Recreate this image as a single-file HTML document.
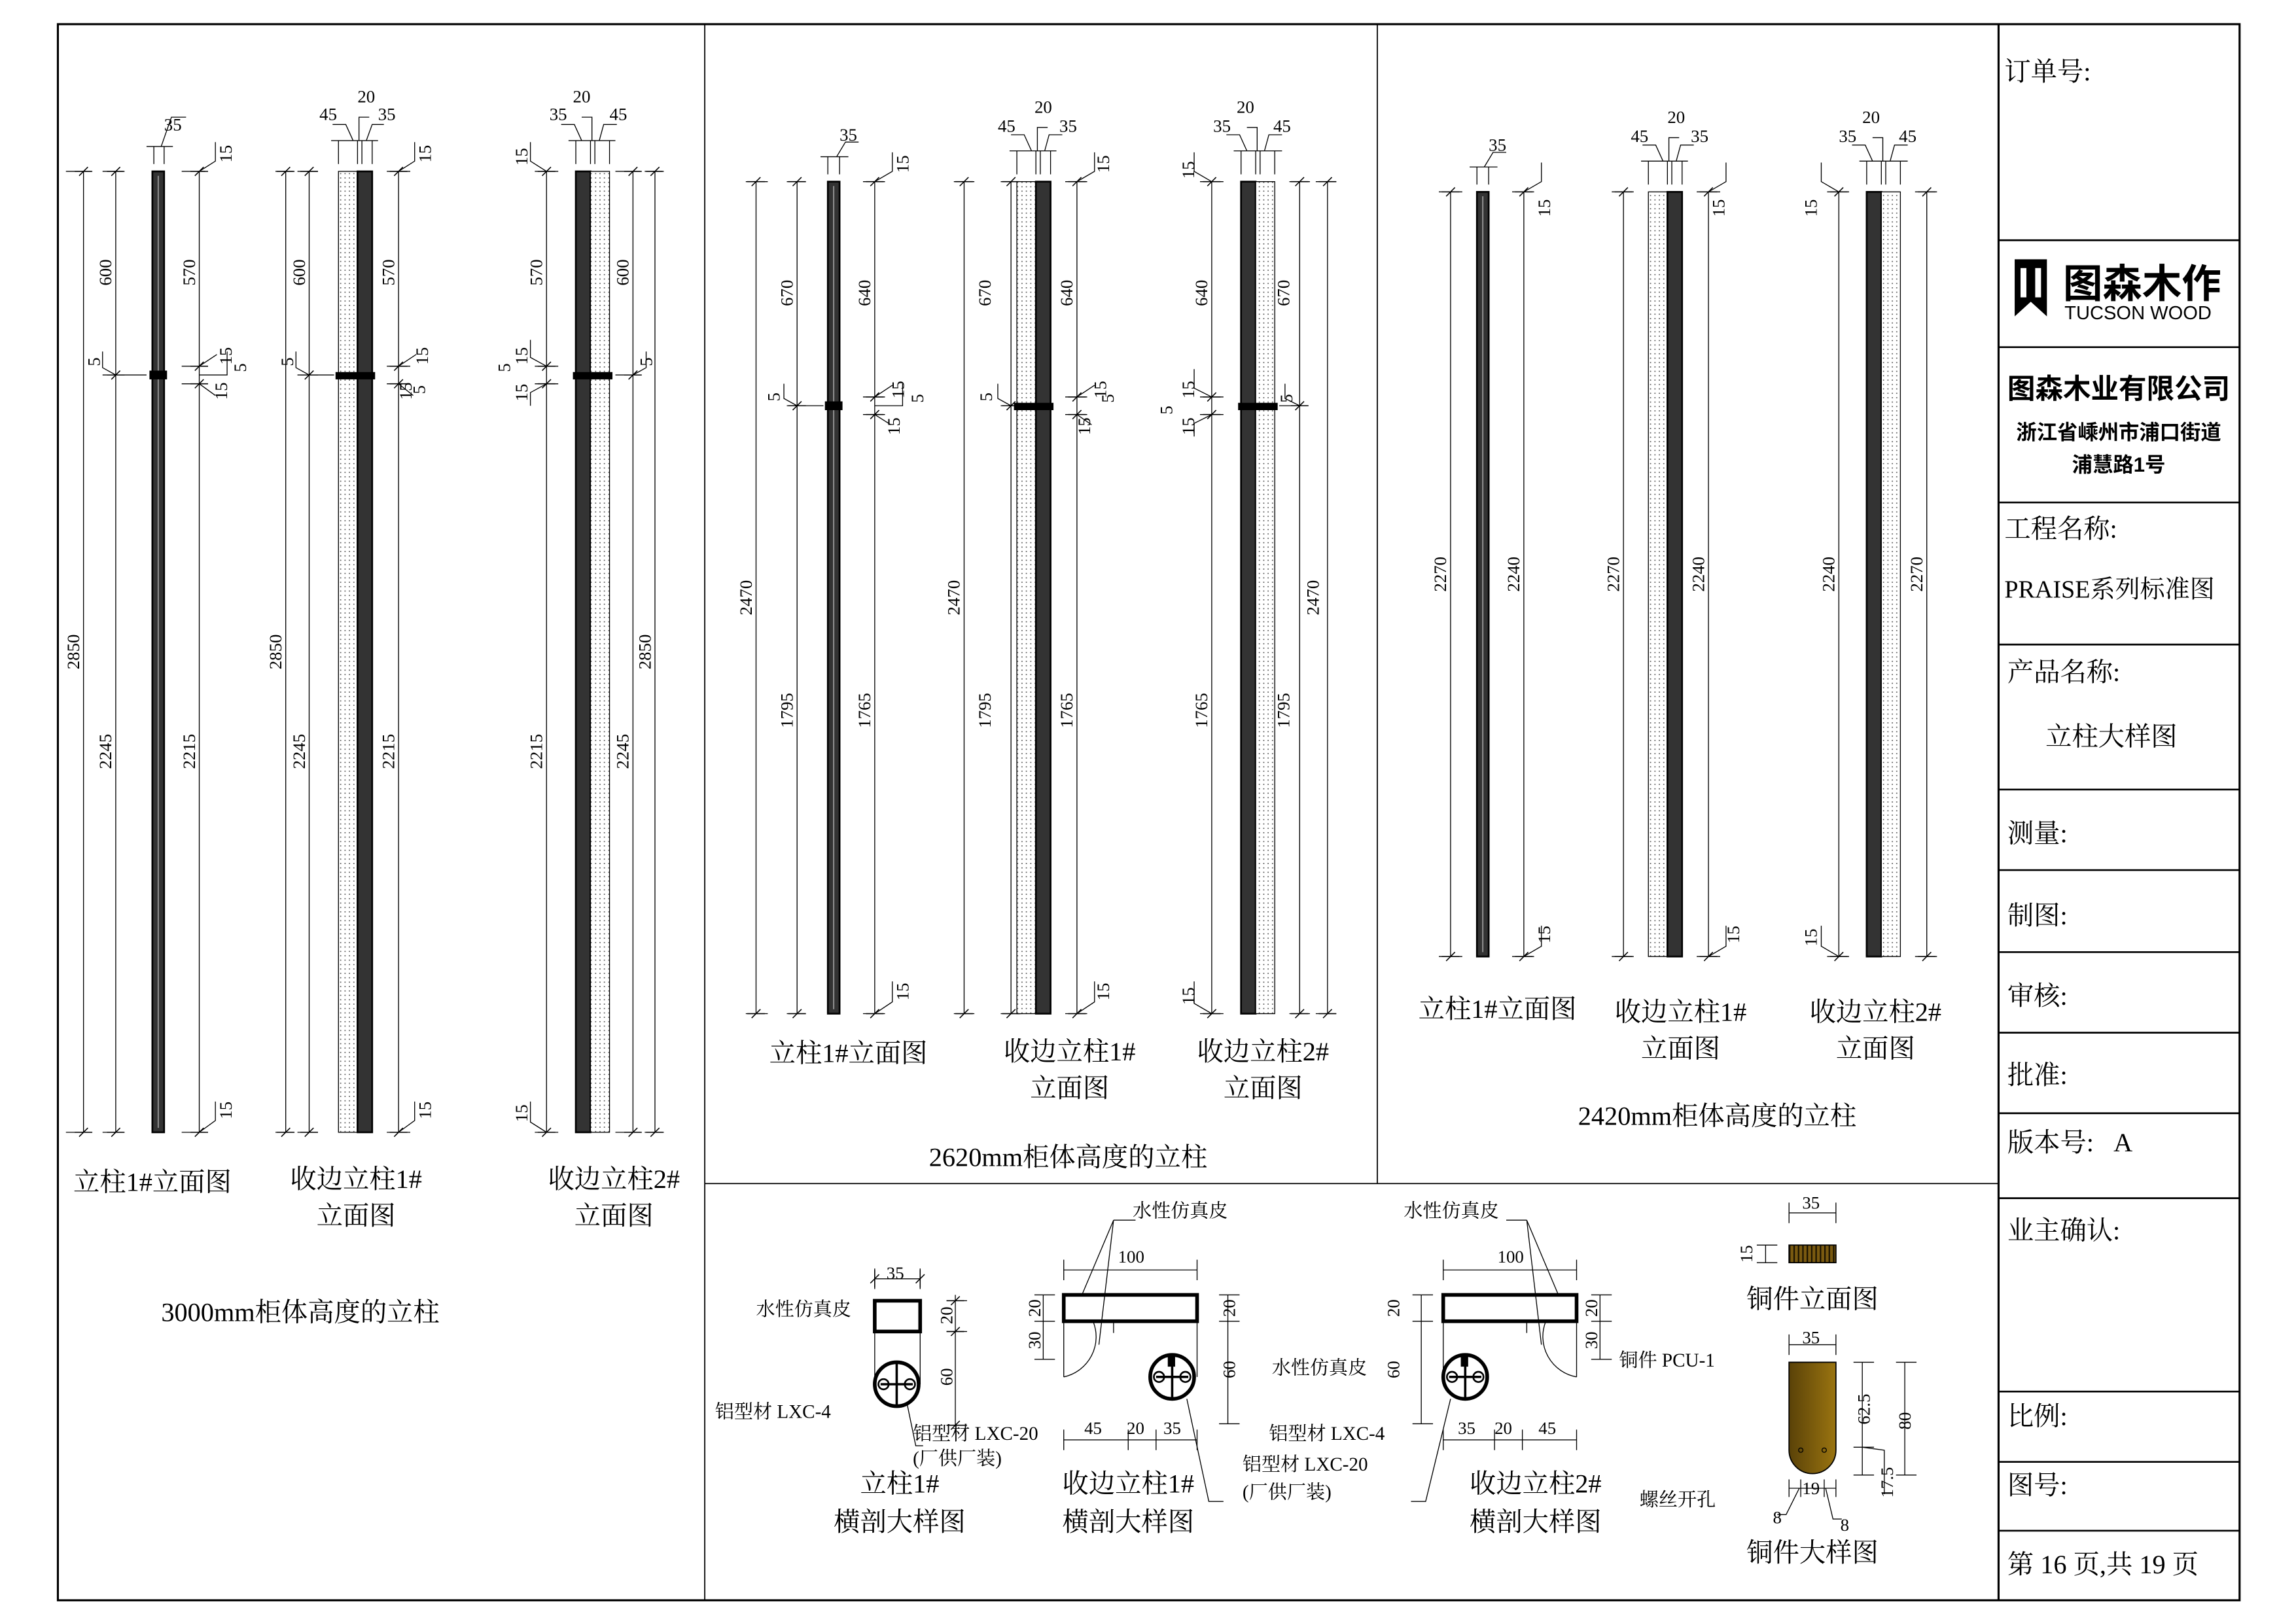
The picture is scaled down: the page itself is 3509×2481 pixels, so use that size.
<!DOCTYPE html>
<html><head><meta charset="utf-8"><style>
html,body{margin:0;padding:0;background:#fff;}
svg{display:block;}
text{font-family:"Liberation Serif","Noto Serif CJK SC","Noto Sans CJK SC",serif;fill:#000;}
.s{font-family:"Liberation Sans","Noto Sans CJK SC",sans-serif;}
</style></head><body>
<svg width="3509" height="2481" viewBox="0 0 1567 1108" preserveAspectRatio="none" xmlns="http://www.w3.org/2000/svg">
<defs>
<symbol id="k" overflow="visible"><path d="M-6,0H6M-3,3L3,-3" stroke="#000" stroke-width="0.7" fill="none"/></symbol>
<symbol id="kv" overflow="visible"><path d="M0,-6V6M-3,3L3,-3" stroke="#000" stroke-width="0.7" fill="none"/></symbol>
<pattern id="dot" width="3" height="3" patternUnits="userSpaceOnUse"><rect width="3" height="3" fill="#fff"/><circle cx="1.5" cy="1.5" r="0.45" fill="#555"/></pattern>
<pattern id="hat" width="3" height="10" patternUnits="userSpaceOnUse"><rect width="3" height="10" fill="#7a5a10"/><rect x="0" width="1" height="10" fill="#1a1200"/></pattern>
<linearGradient id="cu" x1="0" x2="1"><stop offset="0" stop-color="#5a4208"/><stop offset="1" stop-color="#9a7410"/></linearGradient>
</defs>
<rect width="1567" height="1108" fill="#fff"/>
<g stroke="#000" fill="none">
<rect x="39.5" y="16.5" width="1489" height="1076" stroke-width="1.4"/>
<path d="M1364,16V1092" stroke-width="1.4"/>
<path d="M481,16V1092M940,16V808M481,808H1364" stroke-width="0.8"/>
<path d="M1364,164H1528M1364,237H1528M1364,343H1528M1364,440H1528M1364,539H1528M1364,594H1528M1364,650H1528M1364,705H1528M1364,760H1528M1364,818H1528M1364,950H1528M1364,998H1528M1364,1045H1528" stroke-width="1.2"/>
</g>
<!-- title block -->
<g font-size="18">
<text x="1368" y="55">订单号:</text>
<text x="1368" y="367">工程名称:</text>
<text x="1368" y="408" font-size="17">PRAISE系列标准图</text>
<text x="1370" y="465">产品名称:</text>
<text x="1396" y="509">立柱大样图</text>
<text x="1370" y="575">测量:</text>
<text x="1370" y="631">制图:</text>
<text x="1370" y="686">审核:</text>
<text x="1370" y="740">批准:</text>
<text x="1370" y="786">版本号:&#160;&#160;&#160;A</text>
<text x="1370" y="846">业主确认:</text>
<text x="1370" y="973">比例:</text>
<text x="1370" y="1020">图号:</text>
<text x="1370" y="1074">第 16 页,共 19 页</text>
</g>
<path d="M1375,177H1397V216L1386,206L1375,216Z" fill="#000"/>
<rect x="1379" y="183" width="4" height="20" fill="#fff"/><rect x="1389" y="183" width="4" height="20" fill="#fff"/>
<text x="1408" y="203" font-size="27" font-weight="bold" class="s">图森木作</text>
<text x="1409" y="218" font-size="13" class="s">TUCSON WOOD</text>
<text x="1446" y="272" font-size="19" font-weight="bold" class="s" text-anchor="middle">图森木业有限公司</text>
<text x="1446" y="300" font-size="14" font-weight="bold" class="s" text-anchor="middle">浙江省嵊州市浦口街道</text>
<text x="1446" y="322" font-size="14" font-weight="bold" class="s" text-anchor="middle">浦慧路1号</text>

<!-- ============ Section 1 : 3000mm ============ -->
<g stroke="#000" stroke-width="0.6" fill="none">
<path d="M57,117V773M79,117V773M136,117V773"/>
<path d="M45,117H62M45,773H62M70,117H84M70,773H84M70,256H100M124,117H140M124,773H140M124,250H140M124,262H140"/>
<path d="M105,100V112M112,100V112M100,100H118M110,100L117,80H127"/>
<path d="M136,117L147,110V97M79,256L70,251V240M136,250L148,242M136,262L147,270M136,256H155V240M136,773L147,765V752"/>
<path d="M195,117V773M211,117V773M272,117V773"/>
<path d="M188,117H200M188,773H200M203,117H217M203,773H217M203,256H228M264,117H280M264,773H280M264,250H280M264,262H280"/>
<path d="M231,96V112M244,96V112M247,96V112M254,96V112M226,96H258M241,96L236,85H227M250,96L254,85H262M245,96V80H252"/>
<path d="M272,117L283,110V97M211,256L202,251V240M272,250L284,242M272,262L282,270M272,773L283,765V752"/>
<path d="M373,117V773M432,117V773M447,117V773"/>
<path d="M365,117H381M365,773H381M365,250H381M365,262H381M420,117H437M420,773H437M440,117H452M440,773H452M420,256H436"/>
<path d="M393,96V112M403,96V112M406,96V112M416,96V112M388,96H420M397,96L392,85H383M409,96L412,85H421M404,96V80H397"/>
<path d="M373,117L362,110V97M373,250L362,244V232M373,262L362,268V277M432,256L441,251V240M373,773L362,766V752"/>
</g>
<g fill="#000">
<use href="#k" x="57" y="117"/><use href="#k" x="57" y="773"/><use href="#k" x="79" y="117"/><use href="#k" x="79" y="256"/><use href="#k" x="79" y="773"/><use href="#k" x="136" y="117"/><use href="#k" x="136" y="250"/><use href="#k" x="136" y="262"/><use href="#k" x="136" y="773"/>
<use href="#k" x="195" y="117"/><use href="#k" x="195" y="773"/><use href="#k" x="211" y="117"/><use href="#k" x="211" y="256"/><use href="#k" x="211" y="773"/><use href="#k" x="272" y="117"/><use href="#k" x="272" y="250"/><use href="#k" x="272" y="262"/><use href="#k" x="272" y="773"/>
<use href="#k" x="373" y="117"/><use href="#k" x="373" y="250"/><use href="#k" x="373" y="262"/><use href="#k" x="373" y="773"/><use href="#k" x="432" y="117"/><use href="#k" x="432" y="256"/><use href="#k" x="432" y="773"/><use href="#k" x="447" y="117"/><use href="#k" x="447" y="773"/>
</g>
<rect x="104" y="117" width="8" height="656" fill="#333" stroke="#000" stroke-width="1.2"/>
<path d="M108,120V770" stroke="#bbb" stroke-width="0.6"/>
<rect x="102" y="253" width="12" height="6" fill="#000"/>
<rect x="231" y="117" width="13" height="656" fill="url(#dot)" stroke="#000" stroke-width="0.6"/>
<rect x="244" y="117" width="10" height="656" fill="#333" stroke="#000" stroke-width="1.2"/>
<rect x="229" y="254" width="27" height="5" fill="#000"/>
<rect x="393" y="117" width="10" height="656" fill="#333" stroke="#000" stroke-width="1.2"/>
<rect x="403" y="117" width="13" height="656" fill="url(#dot)" stroke="#000" stroke-width="0.6"/>
<rect x="391" y="254" width="27" height="5" fill="#000"/>
<g font-size="12">
<g text-anchor="middle">
<text transform="translate(54,445) rotate(-90)">2850</text>
<text transform="translate(76,186) rotate(-90)">600</text>
<text transform="translate(76,513) rotate(-90)">2245</text>
<text transform="translate(133,186) rotate(-90)">570</text>
<text transform="translate(133,513) rotate(-90)">2215</text>
<text transform="translate(192,445) rotate(-90)">2850</text>
<text transform="translate(208,186) rotate(-90)">600</text>
<text transform="translate(208,513) rotate(-90)">2245</text>
<text transform="translate(269,186) rotate(-90)">570</text>
<text transform="translate(269,513) rotate(-90)">2215</text>
<text transform="translate(370,186) rotate(-90)">570</text>
<text transform="translate(370,513) rotate(-90)">2215</text>
<text transform="translate(429,186) rotate(-90)">600</text>
<text transform="translate(429,513) rotate(-90)">2245</text>
<text transform="translate(444,445) rotate(-90)">2850</text>
<text transform="translate(158,105) rotate(-90)">15</text>
<text transform="translate(158,243) rotate(-90)">15</text>
<text transform="translate(168,251) rotate(-90)">5</text>
<text transform="translate(155,267) rotate(-90)">15</text>
<text transform="translate(158,758) rotate(-90)">15</text>
<text transform="translate(68,247) rotate(-90)">5</text>
<text transform="translate(294,105) rotate(-90)">15</text>
<text transform="translate(292,243) rotate(-90)">15</text>
<text transform="translate(290,266) rotate(-90)">5</text>
<text transform="translate(281,267) rotate(-90)">15</text>
<text transform="translate(294,758) rotate(-90)">15</text>
<text transform="translate(200,247) rotate(-90)">5</text>
<text transform="translate(360,107) rotate(-90)">15</text>
<text transform="translate(360,243) rotate(-90)">15</text>
<text transform="translate(348,251) rotate(-90)">5</text>
<text transform="translate(360,268) rotate(-90)">15</text>
<text transform="translate(360,760) rotate(-90)">15</text>
<text transform="translate(445,247) rotate(-90)">5</text>
</g>
<text x="112" y="89">35</text>
<text x="218" y="82">45</text><text x="244" y="70">20</text><text x="258" y="82">35</text>
<text x="375" y="82">35</text><text x="391" y="70">20</text><text x="416" y="82">45</text>
</g>
<g font-size="18" text-anchor="middle">
<text x="104" y="813">立柱1#立面图</text>
<text x="243" y="811">收边立柱1#</text><text x="243" y="836">立面图</text>
<text x="419" y="811">收边立柱2#</text><text x="419" y="836">立面图</text>
<text x="205" y="902">3000mm柜体高度的立柱</text>
</g>

<!-- ============ Section 2 : 2620mm ============ -->
<g stroke="#000" stroke-width="0.6" fill="none">
<path d="M516,124V692M544,124V692M597,124V692"/>
<path d="M509,124H524M509,692H524M537,124H550M537,692H550M537,277H562M589,124H604M589,692H604M589,271H604M589,283H604"/>
<path d="M565,107V119M573,107V119M560,107H579M571,107L577,97H586"/>
<path d="M597,124L609,117V104M544,277L535,272V262M597,271L609,263M597,283L608,290M597,277H616V262M597,692L609,684V670"/>
<path d="M658,124V692M690,124V692M735,124V692"/>
<path d="M651,124H665M651,692H665M683,124H697M683,692H697M683,277H692M727,124H742M727,692H742M727,271H742M727,283H742"/>
<path d="M694,103V119M707,103V119M710,103V119M717,103V119M689,103H721M704,103L699,92H690M713,103L716,92H725M708,103V87H715"/>
<path d="M735,124L747,117V104M690,277L681,272V262M735,271L747,263M735,283L745,290M735,692L747,684V670"/>
<path d="M827,124V692M887,124V692M906,124V692"/>
<path d="M819,124H835M819,692H835M819,271H835M819,283H835M880,124H894M880,692H894M898,124H912M898,692H912M873,277H893"/>
<path d="M847,103V119M857,103V119M860,103V119M870,103V119M842,103H875M851,103L846,92H837M863,103L866,92H875M858,103V87H851"/>
<path d="M827,124L815,117V104M827,271L815,265V252M827,283L815,289V298M887,277L877,272V262M827,692L815,685V670"/>
</g>
<g>
<use href="#k" x="516" y="124"/><use href="#k" x="516" y="692"/><use href="#k" x="544" y="124"/><use href="#k" x="544" y="277"/><use href="#k" x="544" y="692"/><use href="#k" x="597" y="124"/><use href="#k" x="597" y="271"/><use href="#k" x="597" y="283"/><use href="#k" x="597" y="692"/>
<use href="#k" x="658" y="124"/><use href="#k" x="658" y="692"/><use href="#k" x="690" y="124"/><use href="#k" x="690" y="277"/><use href="#k" x="690" y="692"/><use href="#k" x="735" y="124"/><use href="#k" x="735" y="271"/><use href="#k" x="735" y="283"/><use href="#k" x="735" y="692"/>
<use href="#k" x="827" y="124"/><use href="#k" x="827" y="271"/><use href="#k" x="827" y="283"/><use href="#k" x="827" y="692"/><use href="#k" x="887" y="124"/><use href="#k" x="887" y="277"/><use href="#k" x="887" y="692"/><use href="#k" x="906" y="124"/><use href="#k" x="906" y="692"/>
</g>
<rect x="565" y="124" width="8" height="568" fill="#333" stroke="#000" stroke-width="1.2"/>
<path d="M569,127V689" stroke="#bbb" stroke-width="0.6"/>
<rect x="563" y="274" width="12" height="6" fill="#000"/>
<rect x="694" y="124" width="13" height="568" fill="url(#dot)" stroke="#000" stroke-width="0.6"/>
<rect x="707" y="124" width="10" height="568" fill="#333" stroke="#000" stroke-width="1.2"/>
<rect x="692" y="275" width="27" height="5" fill="#000"/>
<rect x="847" y="124" width="10" height="568" fill="#333" stroke="#000" stroke-width="1.2"/>
<rect x="857" y="124" width="13" height="568" fill="url(#dot)" stroke="#000" stroke-width="0.6"/>
<rect x="845" y="275" width="27" height="5" fill="#000"/>
<g font-size="12">
<g text-anchor="middle">
<text transform="translate(513,408) rotate(-90)">2470</text>
<text transform="translate(541,200) rotate(-90)">670</text>
<text transform="translate(541,485) rotate(-90)">1795</text>
<text transform="translate(594,200) rotate(-90)">640</text>
<text transform="translate(594,485) rotate(-90)">1765</text>
<text transform="translate(655,408) rotate(-90)">2470</text>
<text transform="translate(676,200) rotate(-90)">670</text>
<text transform="translate(676,485) rotate(-90)">1795</text>
<text transform="translate(732,200) rotate(-90)">640</text>
<text transform="translate(732,485) rotate(-90)">1765</text>
<text transform="translate(824,200) rotate(-90)">640</text>
<text transform="translate(824,485) rotate(-90)">1765</text>
<text transform="translate(880,200) rotate(-90)">670</text>
<text transform="translate(880,485) rotate(-90)">1795</text>
<text transform="translate(900,408) rotate(-90)">2470</text>
<text transform="translate(620,112) rotate(-90)">15</text>
<text transform="translate(617,266) rotate(-90)">15</text>
<text transform="translate(630,272) rotate(-90)">5</text>
<text transform="translate(614,291) rotate(-90)">15</text>
<text transform="translate(620,677) rotate(-90)">15</text>
<text transform="translate(532,271) rotate(-90)">5</text>
<text transform="translate(757,112) rotate(-90)">15</text>
<text transform="translate(755,266) rotate(-90)">15</text>
<text transform="translate(760,272) rotate(-90)">5</text>
<text transform="translate(744,291) rotate(-90)">15</text>
<text transform="translate(757,677) rotate(-90)">15</text>
<text transform="translate(677,271) rotate(-90)">5</text>
<text transform="translate(815,116) rotate(-90)">15</text>
<text transform="translate(815,266) rotate(-90)">15</text>
<text transform="translate(800,280) rotate(-90)">5</text>
<text transform="translate(815,291) rotate(-90)">15</text>
<text transform="translate(815,680) rotate(-90)">15</text>
<text transform="translate(882,272) rotate(-90)">5</text>
</g>
<text x="573" y="96">35</text>
<text x="681" y="90">45</text><text x="706" y="77">20</text><text x="723" y="90">35</text>
<text x="828" y="90">35</text><text x="844" y="77">20</text><text x="869" y="90">45</text>
</g>
<g font-size="18" text-anchor="middle">
<text x="579" y="725">立柱1#立面图</text>
<text x="730" y="724">收边立柱1#</text><text x="730" y="749">立面图</text>
<text x="862" y="724">收边立柱2#</text><text x="862" y="749">立面图</text>
<text x="729" y="796">2620mm柜体高度的立柱</text>
</g>

<!-- ============ Section 3 : 2420mm ============ -->
<g stroke="#000" stroke-width="0.6" fill="none">
<path d="M990,131V653M1040,131V653M1108,131V653M1166,131V653M1255,131V653M1315,131V653"/>
<path d="M982,131H998M982,653H998M1032,131H1047M1032,653H1047M1100,131H1115M1100,653H1115M1158,131H1174M1158,653H1174M1247,131H1262M1247,653H1262M1307,131H1322M1307,653H1322"/>
<path d="M1008,114V126M1016,114V126M1003,114H1022M1013,114L1019,104H1028"/>
<path d="M1125,110V126M1138,110V126M1141,110V126M1148,110V126M1120,110H1152M1135,110L1130,99H1121M1144,110L1147,99H1156M1139,110V94H1146"/>
<path d="M1274,110V126M1284,110V126M1287,110V126M1297,110V126M1269,110H1302M1278,110L1273,99H1264M1290,110L1293,99H1302M1285,110V94H1278"/>
<path d="M1040,131L1052,124V111M1040,653L1052,646V632M1166,131L1178,124V111M1166,653L1178,646V632M1255,131L1243,124V111M1255,653L1243,646V632"/>
</g>
<g>
<use href="#k" x="990" y="131"/><use href="#k" x="990" y="653"/><use href="#k" x="1040" y="131"/><use href="#k" x="1040" y="653"/>
<use href="#k" x="1108" y="131"/><use href="#k" x="1108" y="653"/><use href="#k" x="1166" y="131"/><use href="#k" x="1166" y="653"/>
<use href="#k" x="1255" y="131"/><use href="#k" x="1255" y="653"/><use href="#k" x="1315" y="131"/><use href="#k" x="1315" y="653"/>
</g>
<rect x="1008" y="131" width="8" height="522" fill="#333" stroke="#000" stroke-width="1.2"/>
<path d="M1012,134V650" stroke="#bbb" stroke-width="0.6"/>
<rect x="1125" y="131" width="13" height="522" fill="url(#dot)" stroke="#000" stroke-width="0.6"/>
<rect x="1138" y="131" width="10" height="522" fill="#333" stroke="#000" stroke-width="1.2"/>
<rect x="1274" y="131" width="10" height="522" fill="#333" stroke="#000" stroke-width="1.2"/>
<rect x="1284" y="131" width="13" height="522" fill="url(#dot)" stroke="#000" stroke-width="0.6"/>
<g font-size="12">
<g text-anchor="middle">
<text transform="translate(987,392) rotate(-90)">2270</text>
<text transform="translate(1037,392) rotate(-90)">2240</text>
<text transform="translate(1105,392) rotate(-90)">2270</text>
<text transform="translate(1163,392) rotate(-90)">2240</text>
<text transform="translate(1252,392) rotate(-90)">2240</text>
<text transform="translate(1312,392) rotate(-90)">2270</text>
<text transform="translate(1058,142) rotate(-90)">15</text>
<text transform="translate(1058,638) rotate(-90)">15</text>
<text transform="translate(1177,142) rotate(-90)">15</text>
<text transform="translate(1187,638) rotate(-90)">15</text>
<text transform="translate(1240,142) rotate(-90)">15</text>
<text transform="translate(1240,640) rotate(-90)">15</text>
</g>
<text x="1016" y="103">35</text>
<text x="1113" y="97">45</text><text x="1138" y="84">20</text><text x="1154" y="97">35</text>
<text x="1255" y="97">35</text><text x="1271" y="84">20</text><text x="1296" y="97">45</text>
</g>
<g font-size="18" text-anchor="middle">
<text x="1022" y="695">立柱1#立面图</text>
<text x="1147" y="697">收边立柱1#</text><text x="1147" y="722">立面图</text>
<text x="1280" y="697">收边立柱2#</text><text x="1280" y="722">立面图</text>
<text x="1172" y="768">2420mm柜体高度的立柱</text>
</g>

<!-- ============ Bottom details ============ -->
<g stroke="#000" fill="none">
<rect x="597" y="888" width="31" height="21" stroke-width="2.5"/>
<path d="M597,909V945M628,909V945" stroke-width="0.6"/>
<circle cx="612" cy="945" r="15" stroke-width="2.5"/>
<path d="M612,930V960M601,945H623" stroke-width="1.6"/>
<circle cx="603" cy="945" r="3.5" stroke-width="1.2"/><circle cx="621" cy="945" r="3.5" stroke-width="1.2"/>
<path d="M597,873H628M597,866V880M628,866V880" stroke-width="0.6"/>
<path d="M652,884V973M646,888H660M646,909H660M646,973H660" stroke-width="0.6"/>
<path d="M619,958L625,987H630" stroke-width="0.6"/>
</g>
<use href="#kv" x="597" y="873"/><use href="#kv" x="628" y="873"/>
<use href="#k" x="652" y="888"/><use href="#k" x="652" y="909"/><use href="#k" x="652" y="973"/>
<g stroke="#000" fill="none">
<rect x="726" y="884" width="91" height="18" stroke-width="2.5"/>
<path d="M726,902V940M746,902A28,28 0 0 1 726,940M817,902V940M760,902V910" stroke-width="0.6"/>
<circle cx="800" cy="940" r="15" stroke-width="2.5"/>
<path d="M800,925V955M789,940H811" stroke-width="1.6"/>
<circle cx="791" cy="940" r="3.5" stroke-width="1.2"/><circle cx="809" cy="940" r="3.5" stroke-width="1.2"/>
<rect x="797" y="925" width="5" height="8" fill="#000" stroke="none"/>
<path d="M726,867H817M726,860V874M817,860V874" stroke-width="0.6"/>
<path d="M712,884V928M706,884H720M706,902H720M706,928H720" stroke-width="0.6"/>
<path d="M838,884V972M832,884H846M832,902H846M832,972H846" stroke-width="0.6"/>
<path d="M726,983H817M726,976V990M770,976V990M789,976V990M817,976V990" stroke-width="0.6"/>
<path d="M760,833H775M760,833L738,885M760,833L750,918" stroke-width="0.6"/>
<path d="M810,955L825,1025H835" stroke-width="0.6"/>
</g>
<g stroke="#000" fill="none">
<rect x="985" y="884" width="91" height="18" stroke-width="2.5"/>
<path d="M1076,902V940M1055,902A28,28 0 0 0 1076,940M985,902V940M1042,902V910" stroke-width="0.6"/>
<circle cx="1000" cy="940" r="15" stroke-width="2.5"/>
<path d="M1000,925V955M989,940H1011" stroke-width="1.6"/>
<circle cx="991" cy="940" r="3.5" stroke-width="1.2"/><circle cx="1009" cy="940" r="3.5" stroke-width="1.2"/>
<rect x="997" y="925" width="5" height="8" fill="#000" stroke="none"/>
<path d="M985,867H1076M985,860V874M1076,860V874" stroke-width="0.6"/>
<path d="M970,884V972M964,884H978M964,902H978M964,972H978" stroke-width="0.6"/>
<path d="M1092,884V928M1086,884H1100M1086,902H1100M1086,928H1100" stroke-width="0.6"/>
<path d="M985,983H1076M985,976V990M1020,976V990M1039,976V990M1076,976V990" stroke-width="0.6"/>
<path d="M1042,833H1028M1042,833L1064,885M1042,833L1052,918" stroke-width="0.6"/>
<path d="M990,955L973,1025H963" stroke-width="0.6"/>
</g>
<g stroke="#000" fill="none" stroke-width="0.6">
<path d="M1221,828H1253M1221,821V835M1253,821V835"/>
<path d="M1205,850V862M1199,850H1213M1199,862H1213"/>
<path d="M1221,918H1253M1221,911V925M1253,911V925"/>
<path d="M1271,930V1007M1265,930H1279M1265,988H1279M1265,1007H1279M1300,930V1007M1294,930H1308M1294,1007H1308"/>
<path d="M1221,1016H1253M1221,1010V1022M1229,1010V1022M1245,1010V1022M1253,1010V1022M1228,1016L1219,1034H1213M1246,1016L1251,1037H1257M1271,988L1286,990V1020"/>
</g>
<rect x="1221" y="850" width="32" height="12" fill="url(#hat)" stroke="#000" stroke-width="0.8"/>
<path d="M1221,930H1253V990A16,16 0 0 1 1221,990Z" fill="url(#cu)" stroke="#000" stroke-width="0.8"/>
<circle cx="1229" cy="990" r="1.5" fill="none" stroke="#000" stroke-width="0.6"/><circle cx="1245" cy="990" r="1.5" fill="none" stroke="#000" stroke-width="0.6"/>
<g font-size="12">
<text x="605" y="873">35</text>
<text transform="translate(650,898) rotate(-90)" text-anchor="middle">20</text>
<text transform="translate(650,940) rotate(-90)" text-anchor="middle">60</text>
<text x="763" y="862">100</text>
<text transform="translate(710,893) rotate(-90)" text-anchor="middle">20</text>
<text transform="translate(710,915) rotate(-90)" text-anchor="middle">30</text>
<text transform="translate(843,893) rotate(-90)" text-anchor="middle">20</text>
<text transform="translate(843,935) rotate(-90)" text-anchor="middle">60</text>
<text x="740" y="979">45</text><text x="769" y="979">20</text><text x="794" y="979">35</text>
<text x="1022" y="862">100</text>
<text transform="translate(955,893) rotate(-90)" text-anchor="middle">20</text>
<text transform="translate(955,935) rotate(-90)" text-anchor="middle">60</text>
<text transform="translate(1090,893) rotate(-90)" text-anchor="middle">20</text>
<text transform="translate(1090,915) rotate(-90)" text-anchor="middle">30</text>
<text x="995" y="979">35</text><text x="1020" y="979">20</text><text x="1050" y="979">45</text>
<text x="1230" y="825">35</text>
<text transform="translate(1196,856) rotate(-90)" text-anchor="middle">15</text>
<text x="1230" y="917">35</text>
<text transform="translate(1276,962) rotate(-90)" text-anchor="middle">62.5</text>
<text transform="translate(1304,970) rotate(-90)" text-anchor="middle">80</text>
<text transform="translate(1292,1012) rotate(-90)" text-anchor="middle">17.5</text>
<text x="1230" y="1020">19</text>
<text x="1210" y="1040">8</text><text x="1256" y="1045">8</text>
</g>
<g font-size="13">
<text x="516" y="898">水性仿真皮</text>
<text x="488" y="968">铝型材 LXC-4</text>
<text x="623" y="983">铝型材 LXC-20</text>
<text x="623" y="1000">(厂供厂装)</text>
<text x="773" y="831">水性仿真皮</text>
<text x="848" y="1004">铝型材 LXC-20</text>
<text x="848" y="1023">(厂供厂装)</text>
<text x="958" y="831">水性仿真皮</text>
<text x="868" y="938">水性仿真皮</text>
<text x="866" y="983">铝型材 LXC-4</text>
<text x="1105" y="933">铜件 PCU-1</text>
<text x="1119" y="1028">螺丝开孔</text>
</g>
<g font-size="18" text-anchor="middle">
<text x="614" y="1019">立柱1#</text><text x="614" y="1045">横剖大样图</text>
<text x="770" y="1019">收边立柱1#</text><text x="770" y="1045">横剖大样图</text>
<text x="1048" y="1019">收边立柱2#</text><text x="1048" y="1045">横剖大样图</text>
<text x="1237" y="893">铜件立面图</text>
<text x="1237" y="1066">铜件大样图</text>
</g>
</svg>
</body></html>
